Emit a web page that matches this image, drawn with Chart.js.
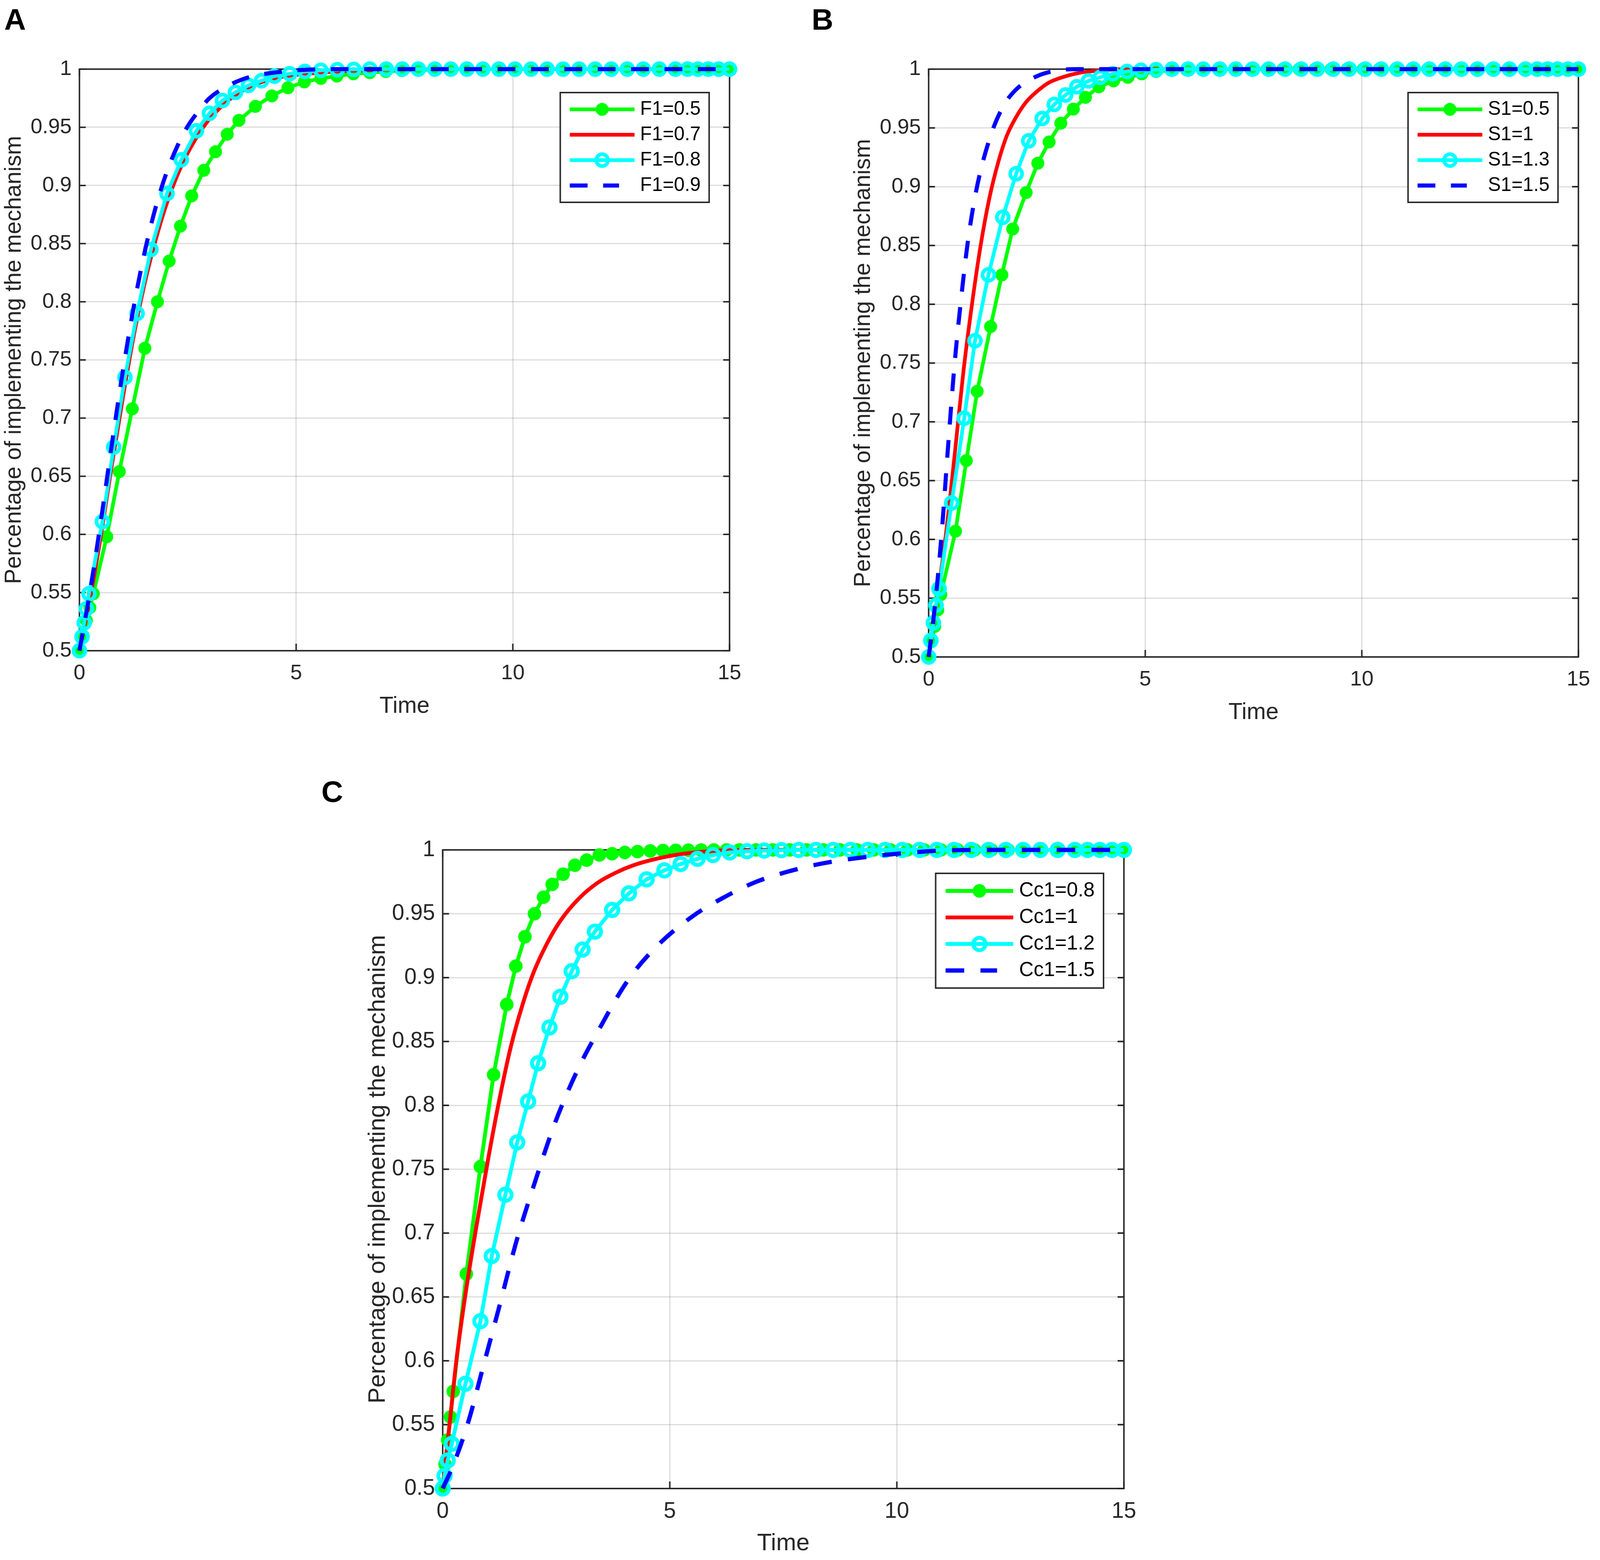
<!DOCTYPE html>
<html>
<head>
<meta charset="utf-8">
<script src="https://cdn.jsdelivr.net/npm/chart.js@4.4.1/dist/chart.umd.min.js"></script>
<style>
  html, body { margin: 0; padding: 0; background: #fff; overflow: hidden; }
  body { position: relative; font-family: "Liberation Sans", Arial, sans-serif; }
  .panel { position: absolute; }
  .letter { position: absolute; font-weight: bold; font-family: "Liberation Sans", Arial, sans-serif; color: #000; }
</style>
</head>
<body>
<div class="letter" id="lA">A</div>
<div class="letter" id="lB">B</div>
<div class="letter" id="lC">C</div>
<div class="panel" id="pA"><canvas id="cA"></canvas></div>
<div class="panel" id="pB"><canvas id="cB"></canvas></div>
<div class="panel" id="pC"><canvas id="cC"></canvas></div>
<script>
// ---- panel A : F1 ----
var labelsA = ['F1=0.5', 'F1=0.7', 'F1=0.8', 'F1=0.9'];
var tA_g = [0, 0.08, 0.16, 0.24, 0.32, 0.63, 0.92, 1.22, 1.51, 1.80,
  2.07, 2.33, 2.59, 2.87, 3.14, 3.41, 3.68, 4.06, 4.44, 4.81,
  5.19, 5.57, 5.94, 6.32, 6.70, 7.07, 7.44, 7.81, 8.18, 8.55,
  8.92, 9.29, 9.66, 10.03, 10.40, 10.78, 11.15, 11.52, 11.89, 12.26,
  12.63, 13.00, 13.37, 13.74, 14.02, 14.26, 14.50, 14.74, 15];
var yA_g = [0.5, 0.513, 0.526, 0.537, 0.549, 0.598, 0.654, 0.708, 0.760, 0.800,
  0.835, 0.865, 0.891, 0.913, 0.929, 0.944, 0.956, 0.968, 0.977, 0.984,
  0.989, 0.992, 0.994, 0.996, 0.997, 0.998, 0.9987, 0.9992, 0.9995, 0.9997,
  0.9998, 0.9999, 1, 1, 1, 1, 1, 1, 1, 1,
  1, 1, 1, 1, 1, 1, 1, 1, 1];
var tA_r = [0, 0.25, 0.5, 0.75, 1.0, 1.25, 1.5, 1.75, 2.0, 2.25, 2.5, 2.75, 3.0, 3.5, 4.0, 4.5, 5.0, 6.0, 7.0, 8.0, 15];
var yA_r = [0.5, 0.546, 0.600, 0.660, 0.717, 0.770, 0.815, 0.852, 0.883, 0.908, 0.928, 0.944, 0.957, 0.975, 0.986, 0.992, 0.995, 0.998, 0.9995, 1, 1];
var tA_c = [0, 0.06, 0.11, 0.16, 0.22, 0.53, 0.79, 1.05, 1.33, 1.65,
  2.02, 2.35, 2.70, 3.00, 3.30, 3.60, 3.90, 4.20, 4.50, 4.85,
  5.20, 5.57, 5.95, 6.33, 6.70, 7.08, 7.45, 7.82, 8.20, 8.57,
  8.94, 9.31, 9.68, 10.05, 10.42, 10.79, 11.16, 11.53, 11.90, 12.27,
  12.64, 13.01, 13.38, 13.75, 14.03, 14.27, 14.51, 14.75, 15];
var yA_c = [0.5, 0.512, 0.524, 0.536, 0.549, 0.611, 0.675, 0.735, 0.790, 0.845,
  0.893, 0.922, 0.947, 0.962, 0.973, 0.980, 0.986, 0.990, 0.994, 0.996,
  0.998, 0.999, 0.9995, 0.9998, 1, 1, 1, 1, 1, 1,
  1, 1, 1, 1, 1, 1, 1, 1, 1, 1,
  1, 1, 1, 1, 1, 1, 1, 1, 1];
var tA_b = [0, 0.25, 0.5, 0.75, 1.0, 1.25, 1.5, 1.75, 2.0, 2.25, 2.5, 2.75, 3.0, 3.5, 4.0, 4.5, 5.0, 6.0, 15];
var yA_b = [0.5, 0.552, 0.613, 0.678, 0.740, 0.795, 0.842, 0.880, 0.910, 0.933, 0.951, 0.964, 0.975, 0.987, 0.994, 0.997, 0.999, 1, 1];

// ---- panel B : S1 ----
var labelsB = ['S1=0.5', 'S1=1', 'S1=1.3', 'S1=1.5'];
var tB_g = [0, 0.07, 0.14, 0.21, 0.28, 0.62, 0.87, 1.12, 1.43, 1.69,
  1.94, 2.25, 2.52, 2.78, 3.05, 3.34, 3.62, 3.93, 4.27, 4.60,
  4.92, 5.25, 5.60, 5.95, 6.32, 6.70, 7.07, 7.44, 7.81, 8.18,
  8.55, 8.92, 9.29, 9.66, 10.03, 10.40, 10.78, 11.15, 11.52, 11.89,
  12.26, 12.63, 13.00, 13.37, 13.74, 14.02, 14.26, 14.50, 14.74, 15];
var yB_g = [0.5, 0.513, 0.526, 0.540, 0.553, 0.607, 0.667, 0.726, 0.781, 0.825,
  0.864, 0.895, 0.920, 0.938, 0.954, 0.966, 0.976, 0.985, 0.990, 0.993,
  0.996, 0.998, 0.999, 0.9995, 1, 1, 1, 1, 1, 1,
  1, 1, 1, 1, 1, 1, 1, 1, 1, 1,
  1, 1, 1, 1, 1, 1, 1, 1, 1, 1];
var tB_r = [0, 0.2, 0.4, 0.6, 0.8, 1.0, 1.2, 1.4, 1.6, 1.8, 2.0, 2.25, 2.5, 2.75, 3.0, 3.5, 4.0, 4.5, 15];
var yB_r = [0.5, 0.550, 0.605, 0.672, 0.742, 0.800, 0.850, 0.890, 0.920, 0.943, 0.958, 0.972, 0.981, 0.988, 0.992, 0.997, 0.999, 1, 1];
var tB_c = [0, 0.05, 0.11, 0.17, 0.24, 0.53, 0.82, 1.07, 1.38, 1.71,
  2.02, 2.31, 2.62, 2.90, 3.16, 3.42, 3.69, 3.96, 4.25, 4.58,
  4.90, 5.25, 5.62, 5.99, 6.34, 6.72, 7.09, 7.48, 7.85, 8.23,
  8.60, 8.97, 9.34, 9.71, 10.08, 10.45, 10.82, 11.19, 11.56, 11.93,
  12.30, 12.67, 13.04, 13.41, 13.78, 14.05, 14.29, 14.52, 14.76, 15];
var yB_c = [0.5, 0.514, 0.529, 0.544, 0.558, 0.631, 0.703, 0.769, 0.825, 0.874,
  0.911, 0.939, 0.958, 0.970, 0.978, 0.985, 0.990, 0.993, 0.996, 0.998,
  0.999, 0.9995, 1, 1, 1, 1, 1, 1, 1, 1,
  1, 1, 1, 1, 1, 1, 1, 1, 1, 1,
  1, 1, 1, 1, 1, 1, 1, 1, 1, 1];
var tB_b = [0, 0.15, 0.3, 0.45, 0.6, 0.75, 0.9, 1.1, 1.4, 1.7, 2.0, 2.5, 3.0, 3.5, 15];
var yB_b = [0.5, 0.545, 0.605, 0.680, 0.750, 0.805, 0.852, 0.897, 0.940, 0.967, 0.982, 0.994, 0.999, 1, 1];

// ---- panel C : Cc1 ----
var labelsC = ['Cc1=0.8', 'Cc1=1', 'Cc1=1.2', 'Cc1=1.5'];
var tC_g = [0, 0.05, 0.11, 0.17, 0.23, 0.52, 0.83, 1.12, 1.41, 1.61,
  1.81, 2.02, 2.22, 2.41, 2.65, 2.91, 3.17, 3.45, 3.73, 4.01,
  4.29, 4.57, 4.85, 5.13, 5.41, 5.69, 5.97, 6.25, 6.53, 6.90,
  7.27, 7.64, 8.01, 8.38, 8.75, 9.12, 9.49, 9.86, 10.23, 10.60,
  10.97, 11.34, 11.71, 12.08, 12.45, 12.82, 13.19, 13.56, 13.93, 14.20,
  14.47, 14.74, 15];
var yC_g = [0.5, 0.519, 0.538, 0.556, 0.576, 0.668, 0.752, 0.824, 0.879, 0.909,
  0.932, 0.950, 0.963, 0.973, 0.981, 0.988, 0.992, 0.996, 0.997, 0.998,
  0.9987, 0.9992, 0.9995, 0.9997, 0.9998, 0.9999, 1, 1, 1, 1,
  1, 1, 1, 1, 1, 1, 1, 1, 1, 1,
  1, 1, 1, 1, 1, 1, 1, 1, 1, 1,
  1, 1, 1];
var tC_r = [0, 0.15, 0.3, 0.5, 0.75, 1.0, 1.25, 1.5, 1.75, 2.0, 2.3, 2.6, 3.0, 3.4, 3.8, 4.2, 4.7, 5.3, 6.1, 7.0, 15];
var yC_r = [0.5, 0.550, 0.600, 0.652, 0.707, 0.758, 0.805, 0.846, 0.878, 0.904, 0.927, 0.945, 0.962, 0.974, 0.982, 0.988, 0.993, 0.997, 0.9995, 1, 1];
var tC_c = [0, 0.04, 0.11, 0.20, 0.50, 0.83, 1.08, 1.38, 1.64, 1.88,
  2.10, 2.35, 2.59, 2.84, 3.08, 3.35, 3.73, 4.10, 4.49, 4.88,
  5.24, 5.61, 5.95, 6.32, 6.70, 7.08, 7.46, 7.84, 8.22, 8.60,
  8.98, 9.36, 9.74, 10.12, 10.50, 10.88, 11.26, 11.64, 12.02, 12.40,
  12.78, 13.16, 13.54, 13.92, 14.20, 14.47, 14.74, 15];
var yC_c = [0.5, 0.510, 0.522, 0.535, 0.582, 0.631, 0.682, 0.730, 0.771, 0.803,
  0.833, 0.861, 0.885, 0.905, 0.922, 0.936, 0.953, 0.966, 0.977, 0.984,
  0.989, 0.993, 0.996, 0.998, 0.999, 0.9995, 0.9998, 1, 1, 1,
  1, 1, 1, 1, 1, 1, 1, 1, 1, 1,
  1, 1, 1, 1, 1, 1, 1, 1];
var tC_b = [0, 0.25, 0.57, 0.88, 1.25, 1.61, 2.04, 2.47, 2.96, 3.45, 4.06, 4.67, 5.5, 6.2, 6.9, 7.6, 8.3, 9.0, 10.0, 11.0, 12.0, 15];
var yC_b = [0.5, 0.520, 0.553, 0.594, 0.643, 0.692, 0.741, 0.786, 0.827, 0.860, 0.897, 0.923, 0.948, 0.963, 0.975, 0.983, 0.989, 0.993, 0.997, 0.9995, 1, 1];

var FONT = '"Liberation Sans", Arial, sans-serif';
var INK = '#262626';
// layout is measured on a 4550 x 3994 page; map it onto whatever viewport we get
var KX = window.innerWidth / 4550, KY = window.innerHeight / 3994, KF = Math.sqrt(KX * KY);
function SX(v) { return v * KX; }
function SY(v) { return v * KY; }
function SF(v) { return v * KF; }

document.body.style.width = window.innerWidth + 'px';
document.body.style.height = window.innerHeight + 'px';
[['lA', 12, 9], ['lB', 2308, 9], ['lC', 914, 1986]].forEach(function (l) {
  var el = document.getElementById(l[0]);
  el.style.left = SX(l[1]) + 'px';
  el.style.top = SY(l[2]) + 'px';
  el.style.fontSize = SF(81) + 'px';
  el.style.lineHeight = SY(81) + 'px';
});

function pts(t, y) {
  return t.map(function (v, i) { return { x: v, y: y[i] }; });
}

// matlab-ish series styles, in plot order (later ones sit on top)
function makeSets(labels, f, g, r, c, b) {
  return [
    { label: labels[0], data: g, borderColor: '#00ff00', borderWidth: SF(10 * f), pointRadius: SF(15 * f),
      pointBorderWidth: SF(5 * f), pointBackgroundColor: '#00ff00', pointBorderColor: '#00ff00', order: 4 },
    { label: labels[1], data: r, borderColor: '#ff0000', borderWidth: SF(10 * f), pointRadius: 0,
      cubicInterpolationMode: 'monotone', order: 3 },
    { label: labels[2], data: c, borderColor: '#00ffff', borderWidth: SF(10 * f), pointRadius: SF(16 * f),
      pointBorderWidth: SF(10 * f), pointBackgroundColor: 'rgba(0,0,0,0)', pointBorderColor: '#00ffff', order: 2 },
    { label: labels[3], data: b, borderColor: '#0000ff', borderWidth: SF(11 * f),
      borderDash: [SF(48 * f), SF(42 * f)], pointRadius: 0, cubicInterpolationMode: 'monotone', order: 1 }
  ];
}

// axes box + inward tick marks
var frame = {
  id: 'frame',
  beforeDatasetsDraw: function (chart) {
    var ctx = chart.ctx, a = chart.chartArea, sx = chart.scales.x, sy = chart.scales.y;
    ctx.save();
    ctx.strokeStyle = INK;
    ctx.lineWidth = SF(4);
    ctx.strokeRect(a.left, a.top, a.right - a.left, a.bottom - a.top);
    ctx.beginPath();
    sy.ticks.forEach(function (t) {
      var p = sy.getPixelForValue(t.value);
      ctx.moveTo(a.left, p); ctx.lineTo(a.left + SX(18), p);
      ctx.moveTo(a.right, p); ctx.lineTo(a.right - SX(18), p);
    });
    sx.ticks.forEach(function (t) {
      var p = sx.getPixelForValue(t.value);
      ctx.moveTo(p, a.bottom); ctx.lineTo(p, a.bottom - SY(18));
      ctx.moveTo(p, a.top); ctx.lineTo(p, a.top + SY(18));
    });
    ctx.stroke();
    ctx.restore();
  }
};

// boxed legend in the upper right corner
var boxLegend = {
  id: 'boxLegend',
  afterDatasetsDraw: function (chart) {
    var ctx = chart.ctx, a = chart.chartArea, sets = chart.data.datasets;
    var f = chart.options.plugins.boxLegend.scale;
    ctx.save();
    ctx.font = SF(52 * f) + 'px ' + FONT;
    var tw = 0;
    sets.forEach(function (d) { tw = Math.max(tw, ctx.measureText(d.label).width); });
    var x0 = SX(27 * f), len = SX(184 * f), gap = SX(16 * f);
    var w = x0 + len + gap + tw + SX(24 * f), rowH = SY(65 * f), pad = SY(43 * f);
    var h = pad * 2 + rowH * (sets.length - 1);
    var x = a.right - SX(58) - w, y = a.top + SY(60);
    ctx.fillStyle = '#fff';
    ctx.fillRect(x, y, w, h);
    ctx.strokeStyle = INK;
    ctx.lineWidth = SF(4);
    ctx.strokeRect(x, y, w, h);
    sets.forEach(function (d, i) {
      var cy = y + pad + i * rowH;
      // a dashed sample only shows two dashes, like the original legend
      var sample = d.borderDash ? SX(140 * f) : len;
      ctx.strokeStyle = d.borderColor;
      ctx.lineWidth = d.borderWidth;
      ctx.setLineDash(d.borderDash || []);
      ctx.beginPath();
      ctx.moveTo(x + x0, cy); ctx.lineTo(x + x0 + sample, cy);
      ctx.stroke();
      ctx.setLineDash([]);
      if (d.pointRadius > 0) {
        ctx.beginPath();
        ctx.arc(x + x0 + len / 2, cy, d.pointRadius, 0, Math.PI * 2);
        ctx.fillStyle = d.pointBackgroundColor;
        ctx.fill();
        ctx.lineWidth = d.pointBorderWidth;
        ctx.strokeStyle = d.pointBorderColor;
        ctx.stroke();
      }
      ctx.fillStyle = '#000';
      ctx.textAlign = 'left';
      ctx.textBaseline = 'middle';
      ctx.fillText(d.label, x + x0 + len + gap, cy);
    });
    ctx.restore();
  }
};

function makePanel(id, canvasId, box, f, sets) {
  // box = plot area in design pixels; y axis band 228 wide, x axis band 182 tall
  var el = document.getElementById(id);
  el.style.left = SX(box.L - 228) + 'px';
  el.style.top = SY(box.T - 77) + 'px';
  el.style.width = SX(box.R - box.L + 261) + 'px';
  el.style.height = SY(box.B - box.T + 259) + 'px';
  return new Chart(document.getElementById(canvasId), {
    type: 'line',
    data: { datasets: sets },
    plugins: [frame, boxLegend],
    options: {
      responsive: true,
      maintainAspectRatio: false,
      animation: false,
      events: [],
      layout: { padding: { left: 0, top: SY(77), right: SX(33), bottom: 0 } },
      elements: { line: { tension: 0 } },
      datasets: { line: { clip: false } },
      plugins: { legend: { display: false }, tooltip: { enabled: false }, boxLegend: { scale: f } },
      scales: {
        x: {
          type: 'linear', min: 0, max: 15,
          afterFit: function (s) { s.height = SY(182); },
          ticks: { stepSize: 5, padding: SY(26), color: INK, font: { family: FONT, size: SF(57 * f) } },
          grid: { color: 'rgba(0,0,0,0.15)', lineWidth: SF(3), drawTicks: false },
          border: { display: false },
          title: { display: true, text: 'Time', color: INK, padding: { top: SY(4), bottom: SY(4) },
            font: { family: FONT, size: SF(62 * f) } }
        },
        y: {
          type: 'linear', min: 0.5, max: 1,
          afterFit: function (s) { s.width = SX(228); },
          ticks: { stepSize: 0.05, padding: SX(22), color: INK, font: { family: FONT, size: SF(57 * f) },
            callback: function (v) { return String(+v.toFixed(2)); } },
          grid: { color: 'rgba(0,0,0,0.15)', lineWidth: SF(3), drawTicks: false },
          border: { display: false },
          title: { display: true, text: 'Percentage of implementing the mechanism', color: INK,
            padding: { top: SX(4), bottom: SX(4) }, font: { family: FONT, size: SF(62 * f) } }
        }
      }
    }
  });
}

makePanel('pA', 'cA', { L: 226, R: 2103, T: 177, B: 1666 }, 1,
  makeSets(labelsA, 1, pts(tA_g, yA_g), pts(tA_r, yA_r), pts(tA_c, yA_c), pts(tA_b, yA_b)));
makePanel('pB', 'cB', { L: 2641, R: 4517, T: 177, B: 1682 }, 1,
  makeSets(labelsB, 1, pts(tB_g, yB_g), pts(tB_r, yB_r), pts(tB_c, yB_c), pts(tB_b, yB_b)));
makePanel('pC', 'cC', { L: 1259, R: 3226, T: 2176, B: 3811 }, 1.045,
  makeSets(labelsC, 1.045, pts(tC_g, yC_g), pts(tC_r, yC_r), pts(tC_c, yC_c), pts(tC_b, yC_b)));
</script>
</body>
</html>
